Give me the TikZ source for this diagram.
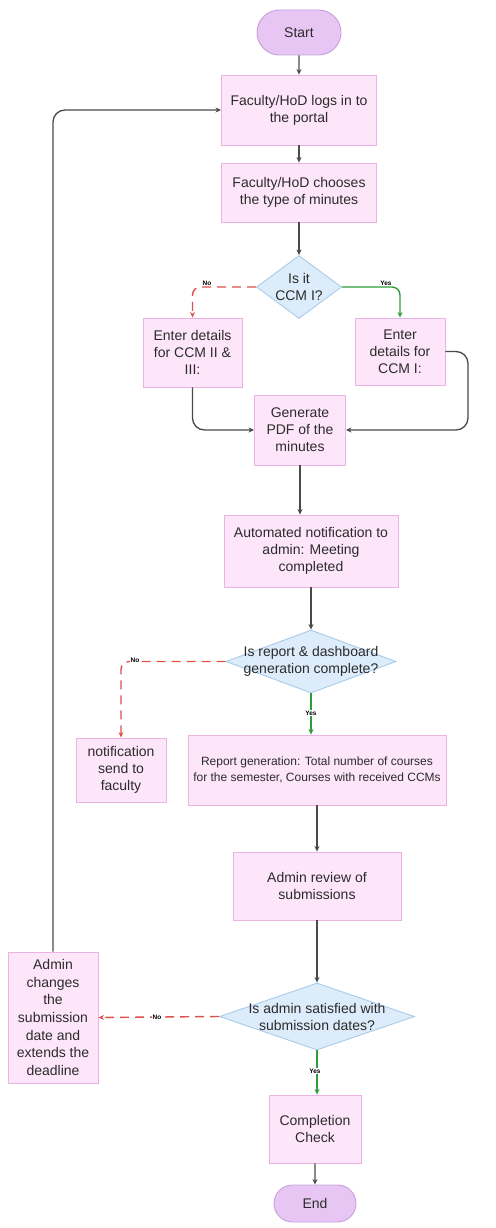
\documentclass[tikz,border=0pt]{standalone}
\usepackage{fontspec}
\setmainfont{Liberation Sans}
\usetikzlibrary{shapes.geometric,shapes.misc,arrows.meta}
\definecolor{boxfill}{HTML}{FDE6FA}
\definecolor{boxline}{HTML}{EDB2E4}
\definecolor{pillfill}{HTML}{E8C6F3}
\definecolor{pillline}{HTML}{C99FDC}
\definecolor{diafill}{HTML}{DDECFA}
\definecolor{dialine}{HTML}{A9CBEA}
\definecolor{txt}{HTML}{2B2B2B}
\definecolor{con}{HTML}{4A4A4A}
\definecolor{nored}{HTML}{E0504A}
\definecolor{yesgreen}{HTML}{2E9E3A}
\begin{document}
\begin{tikzpicture}[x=1pt,y=-1pt,
  every node/.style={text=txt},
  basefont/.style={font=\fontsize{14}{17}\selectfont},
  stepbox/.style={rectangle,draw=boxline,fill=boxfill,line width=0.9pt,align=center,inner sep=2pt,basefont},
  pill/.style={rounded rectangle,draw=pillline,fill=pillfill,line width=0.9pt,align=center,inner sep=2pt,basefont},
  dia/.style={diamond,draw=dialine,fill=diafill,line width=0.9pt,inner sep=0pt},
  diatext/.style={align=center,inner sep=0pt,basefont},
  flow/.style={draw=con,line width=1.3pt,-{Stealth[length=5.5pt,width=5pt]}},
  noflow/.style={draw=nored,line width=1.4pt,dash pattern=on 9pt off 6pt,-{Stealth[length=5.5pt,width=5pt]}},
  yesflow/.style={draw=yesgreen,line width=1.4pt,-{Stealth[length=5.5pt,width=5pt]}},
  lbl/.style={fill=white,inner sep=1pt,font=\fontsize{6.5}{7}\selectfont\bfseries,text=black}
]
\useasboundingbox (0,0) rectangle (495,1228);
\fill[white] (0,0) rectangle (495,1228);

\node[pill,minimum width=88pt,minimum height=45pt] (start) at (299,32.5) {Start};
\node[stepbox,minimum width=155pt,minimum height=70pt] (login) at (299,110) {Faculty/HoD logs in to\\the portal};
\node[stepbox,minimum width=155pt,minimum height=59pt] (choose) at (299,192.5) {Faculty/HoD chooses\\the type of minutes};
\node[dia,minimum width=85pt,minimum height=63pt] (d1) at (299,287) {};
\node[diatext] (d1t) at (d1) {Is it\\CCM I?};
\node[stepbox,minimum width=99pt,minimum height=69pt] (ccmb) at (192.5,352.5) {Enter details\\for CCM II \&\\III:};
\node[stepbox,minimum width=90pt,minimum height=67pt] (ccma) at (400,351.5) {Enter\\details for\\CCM I:};
\node[stepbox,minimum width=91pt,minimum height=70pt] (pdf) at (300,430) {Generate\\PDF of the\\minutes};
\node[stepbox,minimum width=174pt,minimum height=72pt] (auto) at (311,551) {Automated notification to\\admin: Meeting\\completed};
\node[dia,minimum width=170pt,minimum height=63pt] (d2) at (311,661.5) {};
\node[diatext] (d2t) at (d2) {Is report \& dashboard\\generation complete?};
\node[stepbox,minimum width=90pt,minimum height=64pt] (notif) at (121,770) {notification\\send to\\faculty};
\node[stepbox,minimum width=258pt,minimum height=70pt,font=\fontsize{12}{16}\selectfont] (report) at (317,770) {Report generation: Total number of courses\\for the semester, Courses with received CCMs};
\node[stepbox,minimum width=168pt,minimum height=68pt] (review) at (317,886) {Admin review of\\submissions};
\node[dia,minimum width=195pt,minimum height=67pt] (d3) at (317,1016.5) {};
\node[diatext] (d3t) at (d3) {Is admin satisfied with\\submission dates?};
\node[stepbox,minimum width=90pt,minimum height=131pt,font=\fontsize{14}{17.6}\selectfont] (change) at (53,1017.5) {Admin\\changes\\the\\submission\\date and\\extends the\\deadline};
\node[stepbox,minimum width=92pt,minimum height=68pt] (check) at (315,1129) {Completion\\Check};
\node[pill,minimum width=86pt,minimum height=37pt] (end) at (315,1203.5) {End};

\coordinate (c1) at (192.5,287);
\coordinate (c2) at (400,287);
\coordinate (c3) at (192.5,430);
\coordinate (c4) at (468,351.5);
\coordinate (c5) at (468,430);
\coordinate (c6) at (121,661.5);
\coordinate (c7) at (53,110);

\draw[flow] (start) -- (login);
\draw[flow] (login) -- (choose);
\draw[flow] (choose) -- (d1);
\draw[noflow,rounded corners=8pt] (d1.west) -- (c1) -- (ccmb.north);
\node[lbl] at (207,283) {No};
\draw[yesflow,rounded corners=8pt] (d1.east) -- (c2) -- (ccma.north);
\node[lbl] at (386,283) {Yes};
\draw[flow,rounded corners=12pt] (ccmb.south) -- (c3) -- (pdf.west);
\draw[flow,rounded corners=12pt] (ccma.east) -- (c4) -- (c5) -- (pdf.east);
\draw[flow] (pdf.south) -- (pdf.south |- auto.north);
\draw[flow] (auto) -- (d2);
\draw[noflow,rounded corners=8pt] (d2.west) -- (c6) -- (notif.north);
\node[lbl] at (135,660) {No};
\draw[yesflow] (d2.south) -- (d2.south |- report.north);
\node[lbl] at (311,713) {Yes};
\draw[flow] (report) -- (review);
\draw[flow] (review) -- (d3);
\draw[noflow] (d3.west) -- (change.east);
\node[lbl] at (157,1017) {No};
\draw[flow,rounded corners=12pt] (change.north) -- (c7) -- (login.west);
\draw[yesflow] (d3.south) -- (d3.south |- check.north);
\node[lbl] at (315,1071) {Yes};
\draw[flow] (check) -- (end);
\end{tikzpicture}
\end{document}
